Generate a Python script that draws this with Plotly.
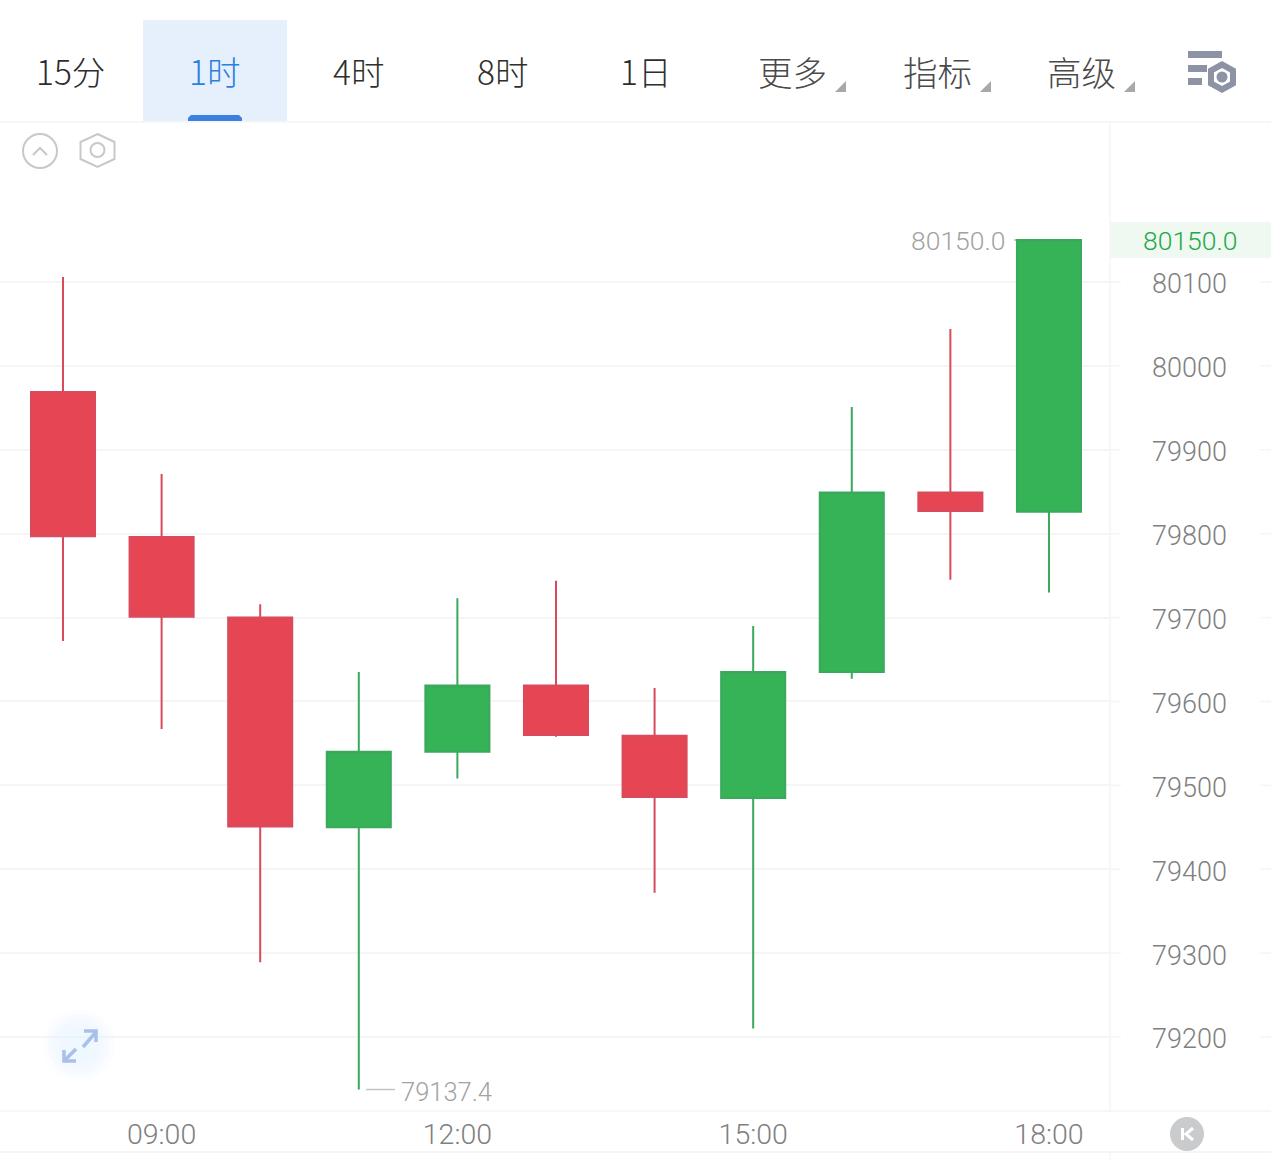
import plotly.graph_objects as go

# ---------- data ----------
hours = [8, 9, 10, 11, 12, 13, 14, 15, 16, 17, 18]
opens = [79969, 79796, 79700, 79450, 79540, 79619, 79559, 79485, 79635, 79849, 79826]
highs = [80106, 79871, 79716, 79635, 79723, 79744, 79616, 79690, 79951, 80044, 80150]
lows = [79672, 79567, 79289, 79137.4, 79508, 79558, 79372, 79210, 79627, 79745, 79730]
closes = [79797, 79701, 79451, 79540, 79619, 79560, 79486, 79635, 79849, 79827, 80150]

y_ticks = [80100, 80000, 79900, 79800, 79700, 79600, 79500, 79400, 79300, 79200]
x_ticks = [9, 12, 15, 18]
x_labels = ["09:00", "12:00", "15:00", "18:00"]
intervals = ["15分", "1时", "4时", "8时", "1日", "更多", "指标", "高级"]
interval_x = [70, 214, 358, 502, 645, 792, 937, 1081]
last_price = "80150.0"
low_price = "79137.4"

# ---------- frame ----------
W, H = 1271, 1160
LATIN = "Roboto, Noto Sans CJK SC, sans-serif"
CJK = "Noto Sans CJK SC, sans-serif"
GREEN, RED = "#36b357", "#e64653"
GREEN_LINE, RED_LINE = "#3aa95c", "#d84a5c"
GRID = "#f5f5f5"
AXIS_TEXT = "#808080"
NOTE_TEXT = "#a2a2a2"


def px(x):
    return x / W


def py(y):
    return 1 - y / H


fig = go.Figure(
    go.Candlestick(
        x=hours, open=opens, high=highs, low=lows, close=closes,
        increasing=dict(line=dict(color=GREEN_LINE, width=2), fillcolor=GREEN),
        decreasing=dict(line=dict(color=RED_LINE, width=2), fillcolor=RED),
        whiskerwidth=0, showlegend=False, hoverinfo="skip",
    )
)

shapes = []
annotations = []


def line(x0, y0, x1, y1, color=GRID, width=1.5):
    shapes.append(dict(type="line", xref="paper", yref="paper", x0=px(x0), x1=px(x1), y0=py(y0), y1=py(y1),
                       line=dict(color=color, width=width), layer="below"))


def rect(x0, y0, x1, y1, fill):
    shapes.append(dict(type="rect", xref="paper", yref="paper", x0=px(x0), x1=px(x1), y0=py(y0), y1=py(y1),
                       fillcolor=fill, line=dict(width=0), layer="below"))


def circle(cx, cy, r, fill="rgba(0,0,0,0)", color="rgba(0,0,0,0)", width=0):
    shapes.append(dict(type="circle", xref="paper", yref="paper", x0=px(cx - r), x1=px(cx + r),
                       y0=py(cy - r), y1=py(cy + r), fillcolor=fill, line=dict(color=color, width=width), layer="above"))


def poly(points, color="rgba(0,0,0,0)", width=0, fill="rgba(0,0,0,0)", closed=False):
    d = "M" + " L".join(f"{px(a):.5f},{py(b):.5f}" for a, b in points) + (" Z" if closed else "")
    shapes.append(dict(type="path", xref="paper", yref="paper", path=d, fillcolor=fill,
                       line=dict(color=color, width=width), layer="above"))


def text(x, y, s, size, color, anchor="center", family=LATIN, weight=None):
    annotations.append(dict(xref="paper", yref="paper", x=px(x), y=py(y), text=s, showarrow=False,
                            xanchor=anchor, yanchor="middle", borderpad=0,
                            font=dict(size=size, color=color, family=family, weight=weight)))


# panel lines
line(0, 122, W, 122)
line(0, 1111, W, 1111)
line(0, 1152, W, 1152, width=2)
line(1110, 122, 1110, 1111)
line(1110, 1152, 1110, 1160)

# horizontal stubs on the price panel
for v in y_ticks:
    shapes.append(dict(type="line", xref="paper", yref="y", x0=px(1110), x1=px(1121), y0=v, y1=v,
                       line=dict(color=GRID, width=1.5), layer="below"))
    shapes.append(dict(type="line", xref="paper", yref="y", x0=px(1260), x1=px(1271), y0=v, y1=v,
                       line=dict(color=GRID, width=1.5), layer="below"))

# toolbar
rect(143, 20, 287, 121, "#e6f0fc")
poly([(188, 121), (188, 118), (191, 115), (239, 115), (242, 118), (242, 121)], fill="#3a80e0", closed=True)
for i, (lab, x) in enumerate(zip(intervals, interval_x)):
    colour = "#2a7fe0" if i == 1 else ("#2e2e2e" if i < 5 else "#4a4a4a")
    text(x, 70.5, lab, 34.5 if i >= 5 else 33.5, colour, family=CJK, weight=300)
for tx in [846, 991, 1135]:
    poly([(tx, 81), (tx, 92), (tx - 11, 92)], fill="#a8a8a8", closed=True)

# settings icon
rect(1188, 51, 1222, 58, "#8c93a5")
rect(1188, 65, 1207, 72, "#8c93a5")
rect(1188, 78, 1202, 85, "#8c93a5")
poly([(1222, 64.5), (1233, 70.5), (1233, 83.5), (1222, 89.5), (1211, 83.5), (1211, 70.5)],
     color="#8c93a5", width=6, fill="#ffffff", closed=True)
circle(1222, 77, 5.5, fill="#8c93a5")

# small chart icons
circle(40, 151, 17, color="#c8c8c8", width=2)
poly([(33, 155), (40, 148), (47, 155)], color="#c8c8c8", width=2)
poly([(97.5, 134), (114.5, 142), (114.5, 159), (97.5, 167), (80.5, 159), (80.5, 142)],
     color="#c8c8c8", width=2, closed=True)
circle(97.5, 150, 7, color="#c8c8c8", width=2)

# expand button
for radius in [36, 31, 26, 21, 16]:
    circle(79, 1045, radius, fill="rgba(232,240,252,0.16)")
poly([(83, 1047), (96, 1032)], color="#a9c0ea", width=3.5)
poly([(84, 1031), (96, 1031), (96, 1042)], color="#a9c0ea", width=3.5)
poly([(64, 1061), (76, 1049)], color="#a9c0ea", width=3.5)
poly([(64, 1050), (64, 1061), (76, 1061)], color="#a9c0ea", width=3.5)

# back-to-latest button
circle(1187, 1134, 17, fill="#c9cbcd")
poly([(1181, 1128), (1184, 1128), (1184, 1140), (1181, 1140)], fill="#ffffff", closed=True)
poly([(1193, 1128), (1186, 1134), (1193, 1140)], color="#ffffff", width=3)

# last price tag
rect(1110, 222, 1271, 258, "#eff8f1")
annotations.append(dict(xref="paper", yref="y", x=px(1190), y=float(last_price) - 1, text=last_price,
                        showarrow=False, xanchor="center", yanchor="middle",
                        font=dict(size=26.5, color="#23a847", family=LATIN, weight=300)))

# extreme labels
annotations.append(dict(xref="paper", yref="y", x=px(1008), y=max(highs) - 1, text=last_price, showarrow=False,
                        xanchor="right", yanchor="middle", font=dict(size=26.5, color=NOTE_TEXT, family=LATIN, weight=300)))
shapes.append(dict(type="line", xref="paper", yref="y", x0=px(1014), x1=px(1046), y0=max(highs), y1=max(highs),
                   line=dict(color="#b5b5b5", width=1.5), layer="below"))
annotations.append(dict(xref="paper", yref="y", x=px(399), y=min(lows) - 2.5, text=low_price, showarrow=False,
                        xanchor="left", yanchor="middle", font=dict(size=25.5, color=NOTE_TEXT, family=LATIN, weight=300)))
shapes.append(dict(type="line", xref="paper", yref="y", x0=px(366), x1=px(395), y0=min(lows), y1=min(lows),
                   line=dict(color="#c4c4c4", width=1.5), layer="below"))

fig.update_layout(
    width=W, height=H,
    margin=dict(l=0, r=0, t=0, b=0),
    paper_bgcolor="#ffffff", plot_bgcolor="#ffffff",
    boxgap=0.194, boxgroupgap=0.194,
    showlegend=False,
    shapes=shapes, annotations=annotations,
    xaxis=dict(
        domain=[0, px(1110)], range=[7.361, 18.619], rangeslider=dict(visible=False),
        tickmode="array", tickvals=x_ticks, ticktext=x_labels,
        showgrid=False, zeroline=False, showline=False, ticks="", automargin=False,
        ticklabelstandoff=3,
        tickfont=dict(size=28.5, color=AXIS_TEXT, family=LATIN, weight=300),
    ),
    yaxis=dict(
        domain=[py(1111), py(122)], range=[79111.8, 80290.7], side="right",
        tickmode="array", tickvals=y_ticks, ticktext=[str(v) for v in y_ticks],
        showgrid=True, gridcolor=GRID, gridwidth=1.5, zeroline=False, showline=False,
        ticks="", automargin=False, ticklabelstandoff=41, ticklabelshift=2,
        tickfont=dict(size=27, color=AXIS_TEXT, family=LATIN, weight=300),
    ),
)

fig.write_html("out.html", config=dict(displayModeBar=False),
               post_script="document.body.style.margin='0';document.body.style.overflow='hidden';")
